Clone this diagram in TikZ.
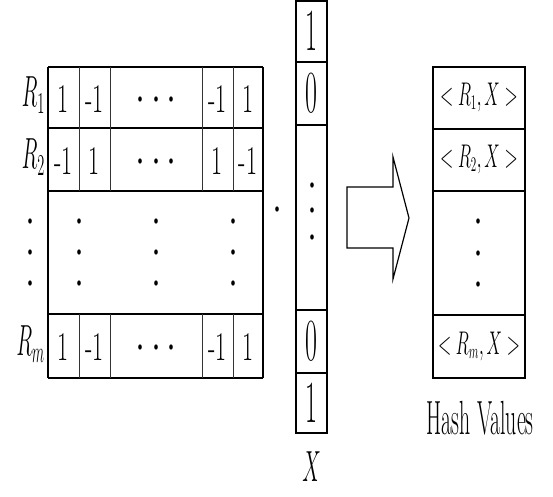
\documentclass[tikz,border=0pt]{standalone}
\usepackage{graphicx}
\newcommand{\vstretch}[2][2.1]{\scalebox{1}[#1]{#2}}
\tikzset{
  hline/.style={line width=1.6pt},
  vline/.style={line width=0.8pt, black!80},
  outline/.style={line width=1.6pt},
  entry/.style={inner sep=0pt, font=\fontsize{24}{24}\selectfont},
  ventry/.style={inner sep=0pt, font=\fontsize{26}{26}\selectfont},
  rowlabel/.style={inner sep=0pt, anchor=east, font=\fontsize{21.5}{21.5}\selectfont},
  hentry/.style={inner sep=0pt, font=\fontsize{16}{16}\selectfont},
  vdot/.style={fill=black}
}
\begin{document}
\begin{tikzpicture}[x=1pt,y=-1pt]
\useasboundingbox (0,0) rectangle (553,496);

% matrix of rows R_1 ... R_m
\foreach \y in {67,128,191,314,378}{
  \draw[hline] (48,\y) -- (263,\y);
}
\draw[outline] (48,67) -- (48,378);
\draw[outline] (263,67) -- (263,378);
\foreach \x in {79,110,202,233}{
  \draw[vline] (\x,67) -- (\x,191);
  \draw[vline] (\x,314) -- (\x,378);
}
\foreach \r/\y/\a/\b/\c/\d in {1/99/1/-1/-1/1,2/161/-1/1/1/-1,m/347/1/-1/-1/1}{
  \node[entry] (r\r a) at (63.5,\y) {\vstretch[1.7]{\a}};
  \node[entry] (r\r b) at (94.5,\y) {\vstretch[1.7]{\b}};
  \node[entry] (r\r c) at (217.5,\y) {\vstretch[1.7]{\c}};
  \node[entry] (r\r d) at (248,\y) {\vstretch[1.7]{\d}};
  \foreach \x in {140,156,171}{
    \fill[vdot] (\x,\y) ellipse [x radius=1.8, y radius=2.7];
  }
}
\node[rowlabel] (lab1) at (45,95) {\vstretch{$R_1$}};
\node[rowlabel] (lab2) at (45,157) {\vstretch{$R_2$}};
\node[rowlabel] (labm) at (45,344) {\vstretch{$R_m$}};
\foreach \x in {30,79,156,233}{
  \foreach \y in {221,252,283}{
    \fill[vdot] (\x,\y) ellipse [x radius=1.8, y radius=2.7];
  }
}

% product dot
\fill[vdot] (277,209) ellipse [x radius=1.8, y radius=2.7];

% vector X
\draw[outline] (296,1) rectangle (327,433);
\foreach \y in {62,125,310,373}{
  \draw[hline] (296,\y) -- (327,\y);
}
\node[ventry] (x1) at (311.5,31) {\vstretch[2.3]{1}};
\node[ventry] (x2) at (311.5,93.5) {\vstretch[2.3]{0}};
\node[ventry] (x3) at (311.5,341.5) {\vstretch[2.3]{0}};
\node[ventry] (x4) at (311.5,403) {\vstretch[2.3]{1}};
\foreach \y in {185,210,237}{
  \fill[vdot] (312,\y) ellipse [x radius=1.8, y radius=2.7];
}
\node[inner sep=0pt, font=\fontsize{19.5}{19.5}\selectfont] (xlab) at (311.5,467) {\vstretch{$X$}};

% arrow
\draw[line width=1.2pt] (347,187) -- (393,187) -- (393,157) -- (409,218)
  -- (393,279) -- (393,248) -- (347,248) -- cycle;

% hash values
\draw[outline] (433,67) rectangle (525,378);
\foreach \y in {129,191,315}{
  \draw[hline] (433,\y) -- (525,\y);
}
\node[hentry] (h1) at (479,97) {\vstretch[1.9]{$<R_1,X>$}};
\node[hentry] (h2) at (479,159) {\vstretch[1.9]{$<R_2,X>$}};
\node[hentry] (hm) at (479,346) {\vstretch[1.9]{$<R_m,X>$}};
\foreach \y in {221,253,284}{
  \fill[vdot] (478,\y) ellipse [x radius=1.8, y radius=2.7];
}
\node[inner sep=0pt, font=\fontsize{21.8}{21.8}\selectfont] (hashlab) at (480,418) {\vstretch[2.2]{Hash Values}};
\end{tikzpicture}
\end{document}
